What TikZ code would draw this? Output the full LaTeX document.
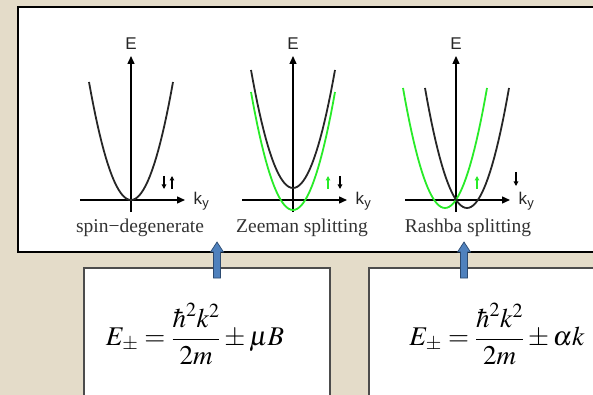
\documentclass[tikz,border=0pt]{standalone}
\usepackage{amsmath}
\usepackage{mathptmx}
\usepackage{fontspec}
\setmainfont{Liberation Serif}
\newfontfamily\axisfont{Liberation Sans}
\usetikzlibrary{arrows.meta}
\definecolor{fondo}{RGB}{228,220,201}
\definecolor{verde}{RGB}{40,235,40}
\definecolor{flecha}{RGB}{79,129,189}
\definecolor{borde}{RGB}{44,74,112}

\begin{document}
\begin{tikzpicture}[x=1pt,y=-1pt,
  band/.style={line width=1.8pt,draw=black!85},
  gband/.style={line width=1.8pt,draw=verde},
  axis/.style={line width=1.4pt,-{Triangle[length=8pt,width=7pt]}},
  spin/.style={line width=1.3pt,-{Triangle[length=4.5pt,width=4.5pt]}},
  lab/.style={font=\fontsize{19.5}{22}\selectfont,text=black!80},
  ax/.style={font=\axisfont\fontsize{17}{19}\selectfont,text=black!85},
  formula/.style={font=\fontsize{27}{32}\selectfont}]

\useasboundingbox (0,0) rectangle (593,395);
\clip (0,0) rectangle (593,395);
\fill[fondo] (0,0) rectangle (593,395);

% recuadro de las bandas
\draw[line width=2.5pt,fill=white] (18,7) rectangle (612,252);

% recuadros de las formulas
\draw[line width=1.2pt,draw=black!70,fill=white] (84,268) rectangle (330,412);
\draw[line width=1.2pt,draw=black!70,fill=white] (369,268) rectangle (612,412);

% ejes
\foreach \cx [count=\i] in {131,293,456}{
  \draw[axis] (\cx-51,200) -- (\cx+54,200);
  \draw[axis] (\cx,212) -- (\cx,56);
  \node[ax] (E\i) at (\cx,44) {E};
  \node[ax,anchor=west] (k\i) at (\cx+59,201) {k\kern0.3pt\raisebox{-3.5pt}{\fontsize{13}{14}\selectfont y}};
}

% spin-degenerate
\draw[band] plot[domain=-42:42,samples=41] ({131+\x},{200-118*(\x/42)*(\x/42)});
\draw[spin] (164,176) -- (164,189);
\draw[spin] (172,189) -- (172,176);

% Zeeman
\draw[band] plot[domain=-42:42,samples=41] ({293+\x},{188-118*(\x/42)*(\x/42)});
\draw[gband] plot[domain=-42:42,samples=41] ({293+\x},{210-118*(\x/42)*(\x/42)});
\draw[spin,draw=verde] (328,189) -- (328,176);
\draw[spin] (340,176) -- (340,189);

% Rashba
\draw[gband] plot[domain=-42:42,samples=41] ({445+\x},{208-120*(\x/42)*(\x/42)});
\draw[band] plot[domain=-42:42,samples=41] ({467+\x},{208-120*(\x/42)*(\x/42)});
\draw[spin,draw=verde] (477,189) -- (477,176);
\draw[spin] (516,172) -- (516,186);

\node[lab] (sd) at (140,228) {spin−degenerate};
\node[lab] (zs) at (302,228) {Zeeman splitting};
\node[lab] (rs) at (468,228) {Rashba splitting};

\node[formula] (fz) at (195,334) {$E_{\pm}=\dfrac{\hbar^2k^2}{2m}\pm\mu B$};
\node[formula] (fr) at (497,334) {$E_{\pm}=\dfrac{\hbar^2k^2}{2m}\pm\alpha k$};

% flechas azules
\foreach \ax in {217,464}
  \draw[draw=borde,fill=flecha,line width=0.7pt] (\ax-3.5,278) -- (\ax-3.5,252) -- (\ax-6.5,252)
    -- (\ax,242) -- (\ax+6.5,252) -- (\ax+3.5,252) -- (\ax+3.5,278) -- cycle;

\end{tikzpicture}
\end{document}
